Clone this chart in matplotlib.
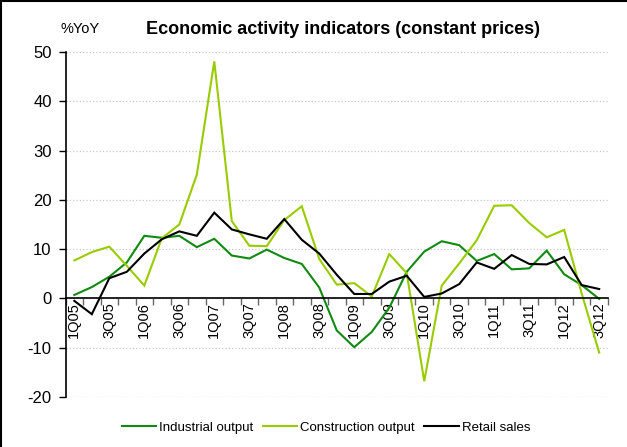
import matplotlib
matplotlib.use("Agg")
import matplotlib.pyplot as plt
from matplotlib.lines import Line2D
import numpy as np

# quarters 1Q05 .. 3Q12
quarters = [f"{q}Q{y:02d}" for y in range(5, 13) for q in range(1, 5)][:31]

industrial = [0.7, 2.3, 4.4, 7.3, 12.7, 12.3, 12.7, 10.4, 12.1, 8.7, 8.1, 9.9,
              8.2, 7.0, 2.2, -6.5, -9.9, -6.8, -1.9, 5.4, 9.5, 11.6, 10.8, 7.6,
              9.0, 5.9, 6.1, 9.7, 4.9, 2.7, -0.1]
construction = [7.7, 9.4, 10.5, 6.6, 2.6, 12.2, 15.0, 25.1, 48.1, 15.7, 10.7, 10.6,
                15.9, 18.7, 8.0, 2.8, 3.1, 0.4, 9.0, 5.1, -16.8, 2.6, 7.1, 11.8,
                18.8, 18.9, 15.3, 12.4, 13.9, 1.0, -11.0]
retail = [-0.5, -3.2, 4.1, 5.4, 9.1, 12.0, 13.6, 12.7, 17.4, 14.0, 13.0, 12.1,
          16.1, 11.9, 9.1, 4.8, 0.9, 0.9, 3.4, 4.6, 0.3, 1.0, 2.9, 7.3,
          6.0, 8.8, 7.0, 6.9, 8.4, 2.7, 1.9]

series_names = ["Industrial output", "Construction output", "Retail sales"]
colors = ["#108a10", "#99cc00", "#000000"]

plt.rcParams['font.family'] = ['Liberation Sans', 'DejaVu Sans']
plt.rcParams['axes.unicode_minus'] = False

fig = plt.figure(figsize=(6.27, 4.47), dpi=100)
ax = fig.add_axes([0.1046, 0.1119, 0.865, 0.7718])

x = np.arange(len(quarters))
for vals, c in zip([industrial, construction, retail], colors):
    ax.plot(x, vals, color=c, lw=1.5, solid_joinstyle='miter')

ax.set_xlim(-0.5, len(quarters) - 0.5)
ax.set_ylim(-20, 50)
ax.set_yticks(range(-20, 51, 10))
ax.yaxis.grid(True, ls=':', color='#c8c8c8', lw=0.9)
ax.set_axisbelow(True)

for s in ['top', 'right']:
    ax.spines[s].set_visible(False)
ax.spines['bottom'].set_position(('data', 0))
ax.spines['bottom'].set_linewidth(1.2)
ax.spines['left'].set_linewidth(1.2)

ax.set_xticks(x[::2])
ax.set_xticklabels(quarters[::2], rotation=90, fontsize=10.5)
ax.set_xticks(np.arange(-0.5, len(quarters), 1), minor=True)
ax.tick_params(axis='x', which='major', length=0, pad=3)
ax.tick_params(axis='x', which='minor', length=5, color='#666666', width=1)
ax.tick_params(axis='y', length=5, width=1, labelsize=12, pad=5)

fig.text(0.097, 0.935, "%YoY", fontsize=10.5, ha='left', va='center')
fig.text(0.547, 0.935, "Economic activity indicators (constant prices)",
         fontsize=13, fontweight='bold', ha='center', va='center')

handles = [Line2D([], [], color=c, lw=1.5) for c in colors]
fig.legend(handles, series_names, loc='center', bbox_to_anchor=(0.52, 0.043),
           ncol=3, frameon=False, fontsize=9.5, handlelength=2.6,
           handletextpad=0.25, columnspacing=0.7)

# chart frame (left and top edges visible)
fig.add_artist(Line2D([0.002, 0.002], [0, 1], color='black', lw=1.5, transform=fig.transFigure))
fig.add_artist(Line2D([0, 1], [0.998, 0.998], color='black', lw=1.5, transform=fig.transFigure))

fig.savefig("out.png", dpi=100)
